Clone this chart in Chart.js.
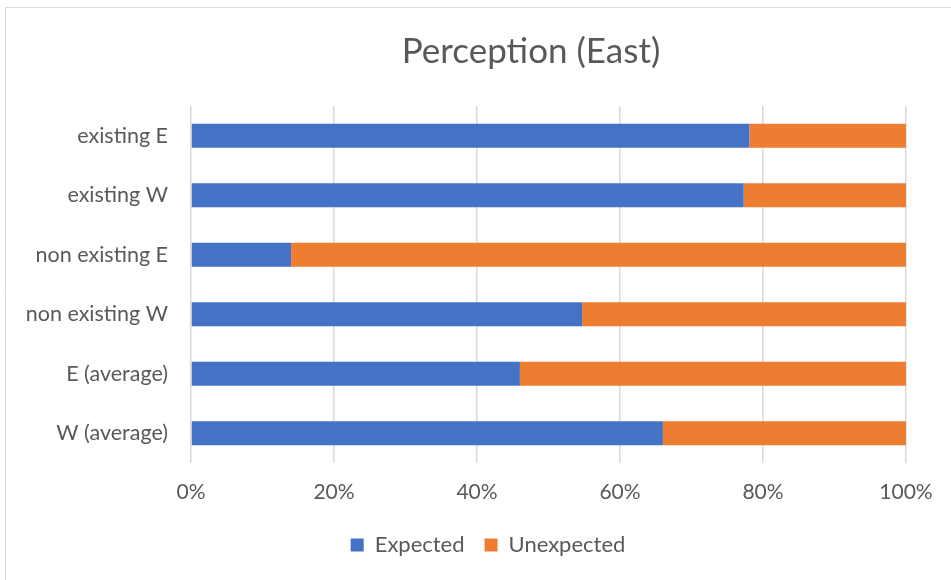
<!DOCTYPE html>
<html>
<head>
<meta charset="utf-8">
<script src="https://cdn.jsdelivr.net/npm/chart.js@4/dist/chart.umd.min.js"></script>
<style>
html,body{margin:0;padding:0;background:#fff;}
#wrap{width:951px;height:580px;position:relative;}
</style>
</head>
<body>
<div id="wrap"><canvas id="c" width="951" height="580"></canvas></div>
<script>
const categories = ["existing E", "existing W", "non existing E", "non existing W", "E (average)", "W (average)"];
const expected = [78.1, 77.3, 14.0, 54.7, 46.0, 66.0];
const unexpected = [21.9, 22.7, 86.0, 45.3, 54.0, 34.0];
const xTicks = [0, 20, 40, 60, 80, 100];
const titleText = "Perception (East)";

const FONT = "Lato, 'Open Sans', sans-serif";
const GREY = "#595959";

const frame = {
  id: 'frame',
  beforeDraw(chart) {
    const ctx = chart.ctx;
    ctx.save();
    ctx.fillStyle = '#fff';
    ctx.fillRect(0, 0, chart.width, chart.height);
    ctx.strokeStyle = '#d9d9d9';
    ctx.lineWidth = 1;
    ctx.beginPath();
    ctx.moveTo(5.5, chart.height);
    ctx.lineTo(5.5, 7.5);
    ctx.lineTo(chart.width, 7.5);
    ctx.stroke();
    ctx.restore();
  }
};

// centre the title and legend where they sit in the original picture
const recentre = {
  id: 'recentre',
  afterLayout(chart) {
    const t = chart.titleBlock;
    if (t) { const d = 531 - (t.left + t.right) / 2; t.left += d; t.right += d; }
    const l = chart.legend;
    if (l) { const d = 488 - (l.left + l.right) / 2; l.left += d; l.right += d; }
  }
};

new Chart(document.getElementById('c'), {
  type: 'bar',
  data: {
    labels: categories,
    datasets: [
      { label: 'Expected', data: expected, backgroundColor: '#4472c4', borderWidth: 0 },
      { label: 'Unexpected', data: unexpected, backgroundColor: '#ed7d31', borderWidth: 0 }
    ]
  },
  options: {
    indexAxis: 'y',
    responsive: false,
    animation: false,
    devicePixelRatio: 1,
    categoryPercentage: 1,
    barPercentage: 0.4,
    layout: { padding: { left: 0, right: 45, top: 0, bottom: 14 } },
    plugins: {
      title: {
        display: true,
        text: titleText,
        color: GREY,
        font: { family: FONT, size: 35, weight: 'normal' },
        padding: { top: 31, bottom: 33 }
      },
      legend: {
        position: 'bottom',
        labels: {
          color: GREY,
          font: { family: FONT, size: 22 },
          boxWidth: 13,
          boxHeight: 13,
          padding: 20
        }
      },
      tooltip: { enabled: false }
    },
    scales: {
      x: {
        stacked: true,
        min: 0,
        max: 100,
        afterBuildTicks(scale) { scale.ticks = xTicks.map(v => ({ value: v })); },
        afterFit(scale) { scale.height = 51; },
        ticks: {
          color: GREY,
          font: { family: FONT, size: 21 },
          padding: 17,
          callback: v => v + '%'
        },
        grid: { color: '#d9d9d9', lineWidth: 1.5, drawTicks: false },
        border: { display: false }
      },
      y: {
        stacked: true,
        afterFit(scale) { scale.width = 191; },
        ticks: {
          color: GREY,
          font: { family: FONT, size: 21.5 },
          padding: 15
        },
        grid: { display: false },
        border: { display: false }
      }
    }
  },
  plugins: [frame, recentre]
});
</script>
</body>
</html>
